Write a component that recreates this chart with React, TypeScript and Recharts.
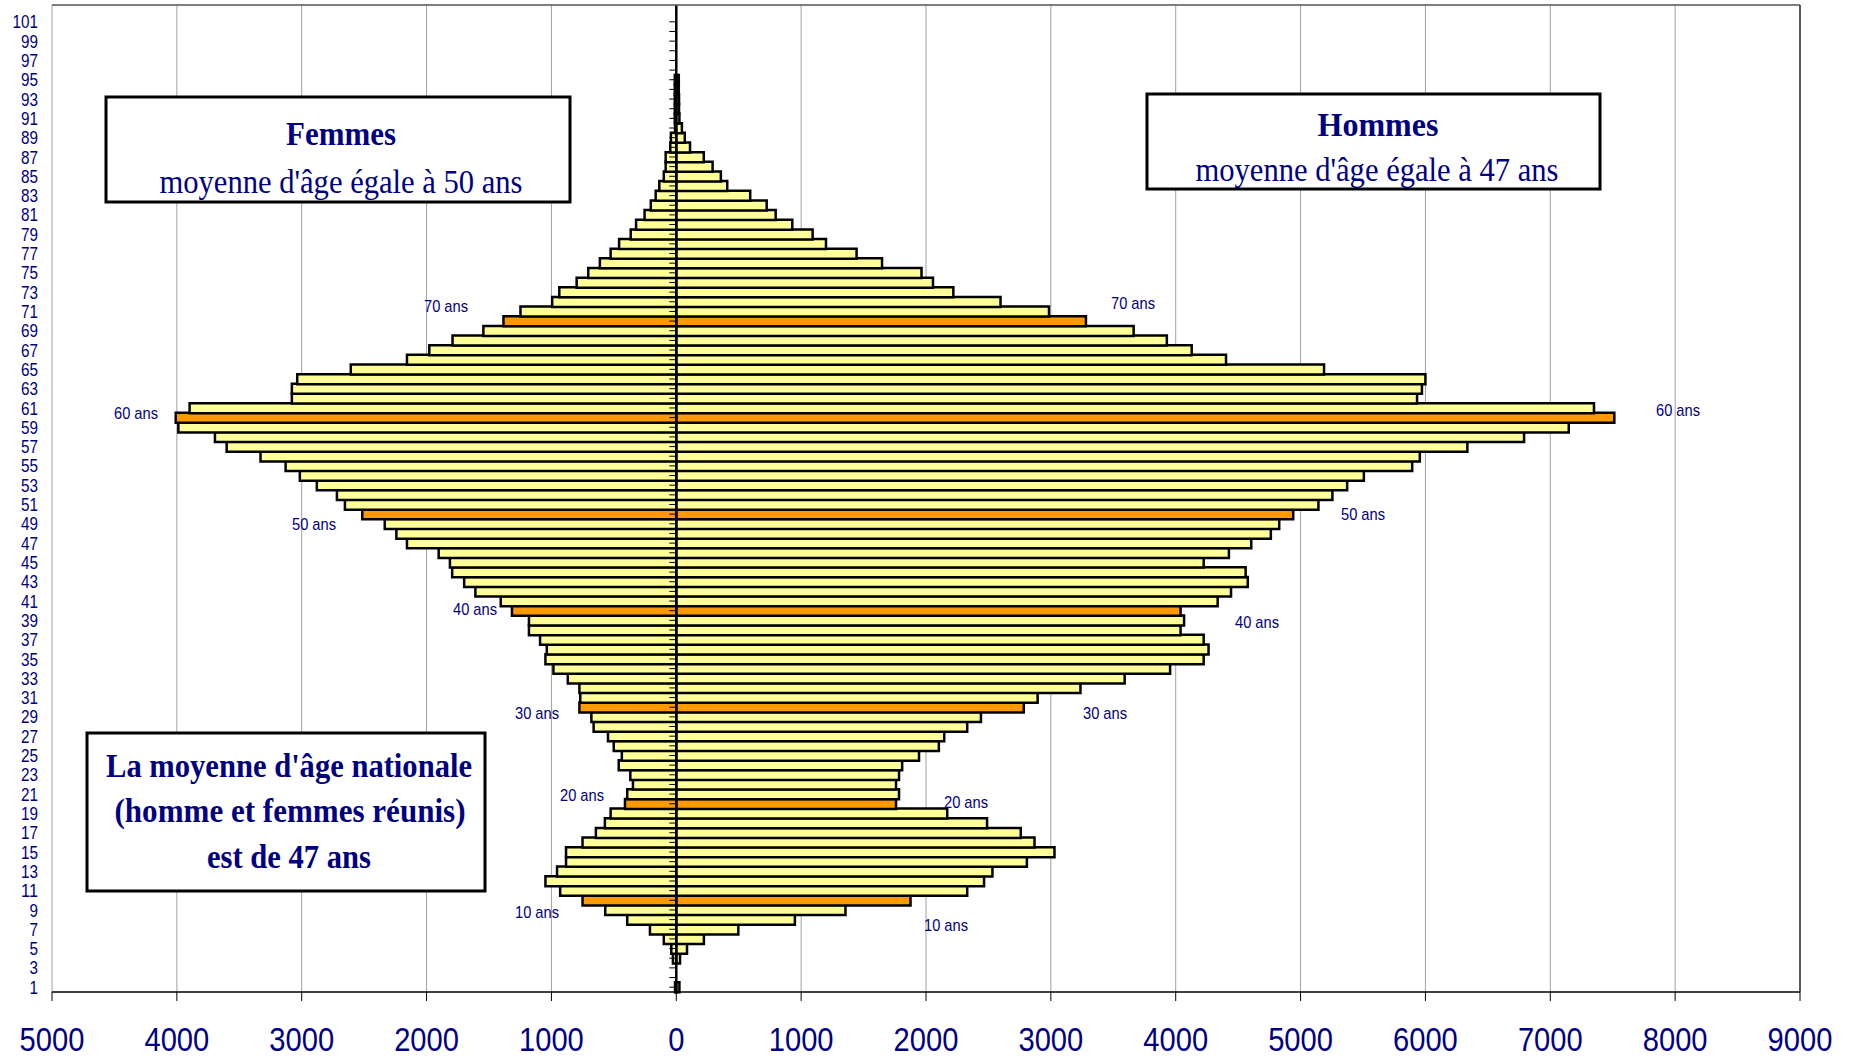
import { BarChart, Bar, XAxis, YAxis, CartesianGrid, ReferenceLine, Cell } from "recharts";

// ages 1..101 (category axis)
const ages = [
    1, 2, 3, 4, 5, 6, 7, 8, 9, 10, 11, 12, 13, 14, 15, 16, 17, 18, 19, 20,
    21, 22, 23, 24, 25, 26, 27, 28, 29, 30, 31, 32, 33, 34, 35, 36, 37, 38, 39, 40,
    41, 42, 43, 44, 45, 46, 47, 48, 49, 50, 51, 52, 53, 54, 55, 56, 57, 58, 59, 60,
    61, 62, 63, 64, 65, 66, 67, 68, 69, 70, 71, 72, 73, 74, 75, 76, 77, 78, 79, 80,
    81, 82, 83, 84, 85, 86, 87, 88, 89, 90, 91, 92, 93, 94, 95, 96, 97, 98, 99, 100, 101,
];

// effectifs par âge (femmes à gauche)
const femmes = [
    10, 0, 0, 27, 40, 100, 211, 393, 569, 751,
    930, 1048, 955, 883, 883, 751, 644, 572, 526, 411,
    393, 347, 368, 461, 436, 501, 547, 662, 680, 776,
    769, 776, 869, 984, 1048, 1037, 1091, 1180, 1180, 1316,
    1406, 1609, 1699, 1795, 1813, 1903, 2157, 2242, 2335, 2515,
    2654, 2718, 2879, 3015, 3129, 3330, 3601, 3695, 3988, 4009,
    3898, 3079, 3079, 3036, 2607, 2157, 1978, 1792, 1545, 1384,
    1248, 994, 937, 798, 705, 612, 526, 458, 365, 322,
    254, 204, 165, 136, 100, 85, 85, 48, 43, 10,
    12, 12, 12, 12, 12, 0, 0, 0, 0, 0, 0,
];

const hommes = [
    25, 0, 0, 30, 86, 221, 497, 950, 1355, 1876,
    2330, 2465, 2532, 2808, 3029, 2869, 2759, 2489, 2170, 1760,
    1784, 1760, 1784, 1809, 1944, 2103, 2146, 2330, 2440, 2783,
    2894, 3237, 3591, 3955, 4224, 4263, 4224, 4039, 4067, 4039,
    4336, 4443, 4577, 4560, 4224, 4426, 4605, 4762, 4829, 4941,
    5143, 5255, 5373, 5507, 5894, 5955, 6336, 6790, 7148, 7513,
    7350, 5933, 5972, 6000, 5188, 4403, 4128, 3929, 3663, 3281,
    2985, 2597, 2219, 2056, 1964, 1648, 1444, 1199, 1092, 929,
    796, 724, 592, 408, 357, 291, 220, 110, 68, 45,
    25, 22, 22, 20, 20, 0, 0, 0, 0, 0, 0,
];

const highlightAges = [10, 20, 30, 40, 50, 60, 70];
const xTicks = [-5000, -4000, -3000, -2000, -1000, 0, 1000, 2000, 3000, 4000, 5000, 6000, 7000, 8000, 9000];

const NAVY = "#000080";
const NARROW = "'Liberation Sans Narrow', 'Arial Narrow', 'Liberation Sans', Arial, sans-serif";
const SERIF = "'Liberation Serif', 'Times New Roman', serif";

const ageLabels = [
    { text: "70 ans", x: 446, y: 306 },
    { text: "70 ans", x: 1133, y: 303 },
    { text: "60 ans", x: 136, y: 413 },
    { text: "60 ans", x: 1678, y: 410 },
    { text: "50 ans", x: 314, y: 524 },
    { text: "50 ans", x: 1363, y: 514 },
    { text: "40 ans", x: 475, y: 609 },
    { text: "40 ans", x: 1257, y: 622 },
    { text: "30 ans", x: 537, y: 713 },
    { text: "30 ans", x: 1105, y: 713 },
    { text: "20 ans", x: 582, y: 795 },
    { text: "20 ans", x: 966, y: 802 },
    { text: "10 ans", x: 537, y: 912 },
    { text: "10 ans", x: 946, y: 925 },
];

// condensed tick labels (no narrow font installed, so squeeze with textLength)
function XTick(props: any) {
    const { x, y, payload } = props;
    const label = String(Math.abs(payload.value));
    return (
        <text x={x} y={y} dy="0.71em" textAnchor="middle" fill={NAVY} fontFamily={NARROW} fontSize={33}
            textLength={label.length * 16.2} lengthAdjust="spacingAndGlyphs">
            {label}
        </text>
    );
}

function YTick(props: any) {
    const { x, y, payload } = props;
    const label = String(payload.value);
    return (
        <text x={x} y={y} dy="0.355em" textAnchor="end" fill={NAVY} fontFamily={NARROW} fontSize={18.5}
            textLength={label.length * 8.5} lengthAdjust="spacingAndGlyphs">
            {label}
        </text>
    );
}

export default function App() {
    const data = ages.map((age, i) => ({ age, femmes: -femmes[i], hommes: hommes[i] }));
    const fillFor = (age: number) => (highlightAges.includes(age) ? "#FF9900" : "#FFFF99");

    return (
        <div style={{ position: "absolute", left: 0, top: 0, width: 1850, height: 1059, background: "#fff" }}>
            <BarChart
                width={1850}
                height={1059}
                data={data}
                layout="vertical"
                stackOffset="sign"
                barCategoryGap={0}
                margin={{ top: 5, right: 50, bottom: 7, left: 8 }}
            >
                <CartesianGrid horizontal={false} stroke="#a0a0a0" />
                <XAxis
                    type="number"
                    domain={[-5000, 9000]}
                    ticks={xTicks}
                    interval={0}
                    axisLine={{ stroke: "#000", strokeWidth: 1.5 }}
                    tickLine={{ stroke: "#000" }}
                    tickSize={9}
                    tickMargin={27}
                    height={60}
                    tick={<XTick />}
                />
                <YAxis
                    type="category"
                    dataKey="age"
                    reversed
                    interval={1}
                    width={44}
                    axisLine={false}
                    tickLine={false}
                    tickMargin={8}
                    padding={{ top: 12, bottom: 0 }}
                    tick={<YTick />}
                />
                <Bar dataKey="femmes" stackId="p" stroke="#000" strokeWidth={2.5} isAnimationActive={false}>
                    {data.map((d) => (
                        <Cell key={`f-${d.age}`} fill={fillFor(d.age)} />
                    ))}
                </Bar>
                <Bar dataKey="hommes" stackId="p" stroke="#000" strokeWidth={2.5} isAnimationActive={false}>
                    {data.map((d) => (
                        <Cell key={`h-${d.age}`} fill={fillFor(d.age)} />
                    ))}
                </Bar>
                <ReferenceLine x={0} stroke="#000" strokeWidth={2.5} />
                {ages.map((a) => (
                    <ReferenceLine
                        key={`t-${a}`}
                        segment={[{ x: -56, y: a }, { x: 0, y: a }]}
                        stroke="#000"
                        strokeWidth={1}
                    />
                ))}
            </BarChart>

            <svg
                width={1850}
                height={1059}
                style={{ position: "absolute", left: 0, top: 0, pointerEvents: "none" }}
            >
                {/* cadre de la zone de tracé */}
                <line x1={52} y1={5} x2={1800} y2={5} stroke="#555" strokeWidth={1.5} />
                <line x1={1800} y1={5} x2={1800} y2={992} stroke="#333" strokeWidth={1.5} />

                {/* Femmes */}
                <rect x={106} y={97} width={464} height={105} fill="#fff" stroke="#000" strokeWidth={3} />
                <text x={341} y={145} textAnchor="middle" fill={NAVY} fontFamily={SERIF} fontWeight="bold" fontSize={33}
                    textLength={110} lengthAdjust="spacingAndGlyphs">Femmes</text>
                <text x={341} y={193} textAnchor="middle" fill={NAVY} fontFamily={SERIF} fontSize={34}
                    textLength={363} lengthAdjust="spacingAndGlyphs">moyenne d'âge égale à 50 ans</text>

                {/* Hommes */}
                <rect x={1147} y={94} width={453} height={95} fill="#fff" stroke="#000" strokeWidth={3} />
                <text x={1378} y={136} textAnchor="middle" fill={NAVY} fontFamily={SERIF} fontWeight="bold" fontSize={33}
                    textLength={121} lengthAdjust="spacingAndGlyphs">Hommes</text>
                <text x={1377} y={181} textAnchor="middle" fill={NAVY} fontFamily={SERIF} fontSize={34}
                    textLength={363} lengthAdjust="spacingAndGlyphs">moyenne d'âge égale à 47 ans</text>

                {/* moyenne nationale */}
                <rect x={87} y={733} width={398} height={158} fill="#fff" stroke="#000" strokeWidth={3} />
                <text x={289} y={777} textAnchor="middle" fill={NAVY} fontFamily={SERIF} fontWeight="bold" fontSize={33}
                    textLength={366} lengthAdjust="spacingAndGlyphs">La moyenne d'âge nationale</text>
                <text x={290} y={822} textAnchor="middle" fill={NAVY} fontFamily={SERIF} fontWeight="bold" fontSize={33}
                    textLength={351} lengthAdjust="spacingAndGlyphs">(homme et femmes réunis)</text>
                <text x={289} y={868} textAnchor="middle" fill={NAVY} fontFamily={SERIF} fontWeight="bold" fontSize={33}
                    textLength={164} lengthAdjust="spacingAndGlyphs">est de 47 ans</text>

                {ageLabels.map((l, i) => (
                    <text key={i} x={l.x} y={l.y + 6} textAnchor="middle" fill={NAVY} fontFamily={NARROW} fontSize={17}
                        textLength={44} lengthAdjust="spacingAndGlyphs">{l.text}</text>
                ))}
            </svg>
        </div>
    );
}
